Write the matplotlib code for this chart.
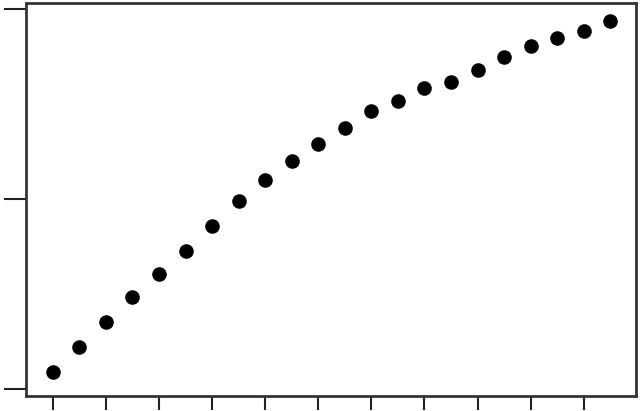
import matplotlib
matplotlib.use("Agg")
import matplotlib.pyplot as plt

# data (x = index, y in arbitrary units, ticks at 0/100/200)
x_vals = list(range(1, 23))
y_vals = [9.0, 22.0, 35.2, 48.3, 60.4, 72.6, 85.6, 98.8, 109.9, 119.8, 129.1,
          137.2, 146.2, 151.5, 158.5, 161.5, 167.7, 174.5, 180.7, 184.7, 188.6, 193.7]
x_ticks = list(range(1, 23, 2))
y_ticks = [0, 100, 200]

fig = plt.figure(figsize=(6.4, 4.11), dpi=100)
ax = fig.add_axes([0.0411, 0.0365, 0.9526, 0.9555])

ax.plot(x_vals, y_vals, 'o', color='black', markersize=10.5, markeredgewidth=0)

ax.set_xlim(0, 22.97)
ax.set_ylim(-3.9, 203.0)
ax.set_xticks(x_ticks)
ax.set_yticks(y_ticks)
ax.set_xticklabels([])
ax.set_yticklabels([])
ax.tick_params(axis='x', direction='out', length=10, width=1.5, color='#222222')
ax.tick_params(axis='y', direction='out', length=16, width=1.5, color='#222222')
for s in ax.spines.values():
    s.set_linewidth(2)
    s.set_color('#333333')

fig.savefig("out.png", dpi=100)
